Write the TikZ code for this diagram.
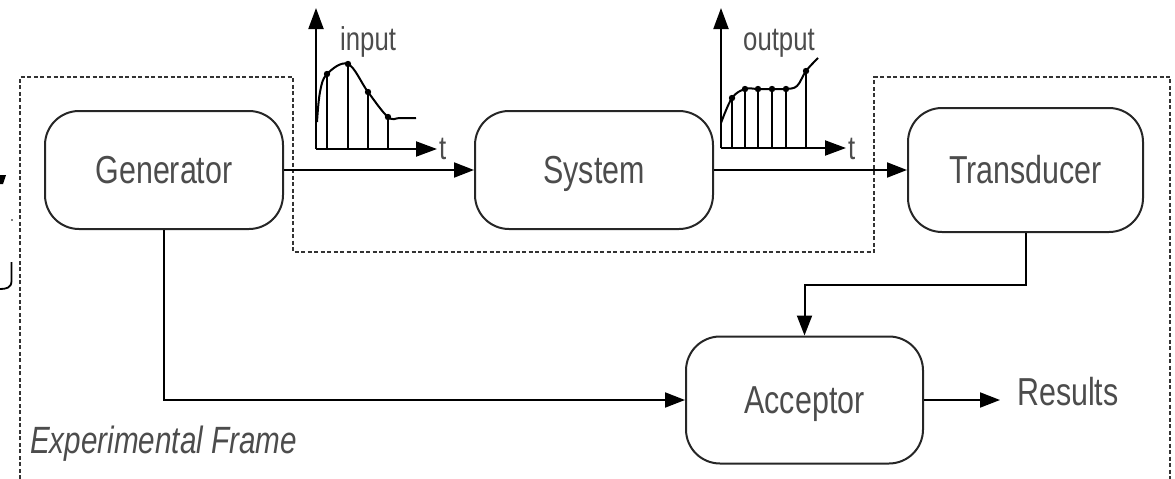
\documentclass[tikz,border=0pt]{standalone}
\usepackage{fontspec}
\setmainfont{Liberation Sans}
\newfontfamily\cond{Liberation Sans}[FakeStretch=0.78]
\usetikzlibrary{arrows.meta}
\begin{document}
\begin{tikzpicture}[x=1pt,y=-1pt,
  block/.style={draw=black!85, line width=2pt, rounded corners=34pt,
    minimum width=238pt, minimum height=118pt, inner sep=0pt,
    text height=27pt, text depth=0pt,
    font=\cond\fontsize{39}{44}\selectfont, text=black!70},
  link/.style={draw=black, line width=2pt, -{Triangle[length=20pt,width=15pt]}},
  frameline/.style={draw=black!80, line width=1.6pt, dash pattern=on 4pt off 2.5pt},
  axis/.style={draw=black, line width=2pt, -{Triangle[length=21pt,width=15pt]}},
  stem/.style={draw=black, line width=1.6pt},
  curve/.style={draw=black, line width=2pt},
  dot/.style={fill=black},
  plotlabel/.style={font=\cond\fontsize{33}{38}\selectfont, text=black!70, inner sep=0pt},
  caption/.style={font=\cond\itshape\fontsize{38}{44}\selectfont, text=black!70, inner sep=0pt}
]
\useasboundingbox (0,0) rectangle (1175,479);

% experimental frame outline
\draw[frameline] (20,479) -- (20,77) -- (293,77) -- (293,252) -- (874,252)
  -- (874,77) -- (1170,77) -- (1170,479);
\node[caption, anchor=base west] (ef) at (30,453) {Experimental Frame};

% blocks
\node[block] (gen) at (164,170) {Generator};
\node[block] (sys) at (594,170) {System};
\node[block, minimum width=235pt, minimum height=124pt] (tra) at (1025.5,170) {Transducer};
\node[block, minimum width=237pt, minimum height=127pt] (acc) at (804.5,400) {Acceptor};
\node[plotlabel, font=\cond\fontsize{39}{44}\selectfont, anchor=base west] (res) at (1017,405) {Results};
\coordinate (resin) at (1000,400);

% connectors
\draw[link] (gen.east) -- (sys.west);
\draw[link] (sys.east) -- (tra.west);
\draw[link] (gen.south) -- (gen.south |- acc.west) -- (acc.west);
\draw[link] (tra.south) -- ++(0,52) -| (acc.north);
\draw[link] (acc.east) -- (resin);

% input signal
\coordinate (io) at (316,149);
\coordinate (iy) at (316,8);
\coordinate (ix) at (437,149);
\draw[axis] (io) -- (iy);
\draw[axis] (io) -- (ix);
\node[plotlabel, anchor=base west] (inlab) at (340,50) {input};
\node[plotlabel, anchor=base west] (int) at (439,159) {t};
\draw[curve] plot[smooth, tension=0.6] coordinates {(317,122) (320,92) (327,74) (348,64) (368,92) (388,117) (400,118) (416,118)};
\foreach \px/\py in {327/74, 348/64, 368/92, 388/117} {
  \draw[stem] (\px,\py) -- (\px,149);
  \fill[dot] (\px,\py) circle (3.2);
}

% output signal
\coordinate (oo) at (721,148);
\coordinate (oy) at (721,8);
\coordinate (ox) at (846,148);
\draw[axis] (oo) -- (oy);
\draw[axis] (oo) -- (ox);
\node[plotlabel, anchor=base west] (outlab) at (743,50) {output};
\node[plotlabel, anchor=base west] (outt) at (848,159) {t};
\draw[curve] plot[smooth, tension=0.6] coordinates {(721,123) (732,98) (745,89) (758,89) (772,89) (786,89) (797,86) (806,71) (818,58)};
\foreach \px/\py in {732/98, 745/89, 758/89, 772/89, 786/89, 806/71} {
  \draw[stem] (\px,\py) -- (\px,148);
  \fill[dot] (\px,\py) circle (3.2);
}

% fragments at the left edge
\fill (0,175) -- (6,175) -- (3,184) -- (0,184) -- cycle;
\fill (12,220) circle (0.9);
\draw[line width=1.8pt] (11.5,262) -- (11.5,281) .. controls (11.5,288) and (6,289) .. (0,289);
\end{tikzpicture}
\end{document}
